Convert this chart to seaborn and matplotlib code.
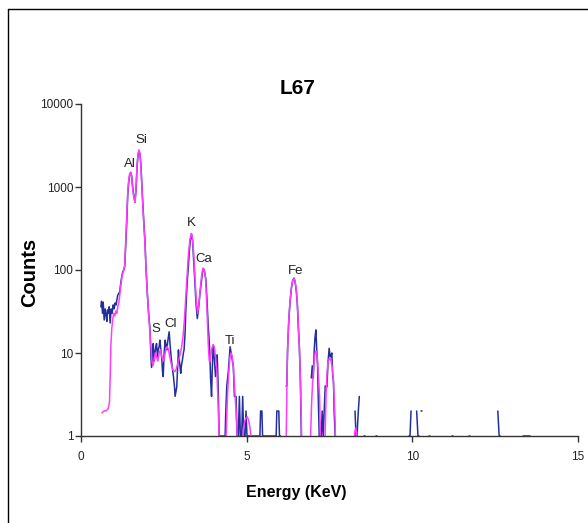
import numpy as np
import pandas as pd
import matplotlib
matplotlib.use("Agg")
import matplotlib.pyplot as plt
from matplotlib.lines import Line2D
from matplotlib.ticker import NullLocator, FixedLocator, FixedFormatter
import seaborn as sns

nan = np.nan

# measured spectrum (blue) - NaN marks zero-count gaps
energy_meas = [0.60,0.62,0.65,0.67,0.70,0.73,0.76,0.78,0.80,0.82,0.85,0.88,0.91,0.94,0.97,1.00,
               1.03,1.06,1.08,1.11,1.14,1.17,1.20,1.23,1.26,1.29,1.32,1.35,1.38,1.41,1.44,1.47,
               1.50,1.53,1.56,1.60,1.63,1.66,1.69,1.72,1.75,1.78,1.81,1.84,1.87,1.90,1.93,1.96,
               2.00,2.04,2.08,2.11,2.13,2.16,2.18,2.21,2.23,2.26,2.28,2.31,2.33,2.36,2.38,2.41,
               2.44,2.46,2.48,2.51,2.54,2.57,2.59,2.62,2.66,2.70,2.74,2.77,2.79,2.82,2.84,2.87,
               2.89,2.92,2.94,2.97,3.01,3.03,3.06,3.09,3.11,3.14,3.16,3.19,3.21,3.24,3.27,3.30,
               3.34,3.37,3.40,3.44,3.47,3.51,3.55,3.59,3.63,3.66,3.69,3.72,3.75,3.77,3.80,3.84,
               3.87,3.89,3.91,3.94,3.96,3.99,4.02,4.06,4.09,4.11,4.14,4.17,4.20,4.25,4.30,4.35,
               4.37,4.40,4.45,4.50,4.55,4.60,4.63,4.66,4.68,4.71,4.75,4.78,4.81,4.85,4.88,4.91,
               4.95,4.98,5.01,5.10,5.20,5.30,5.40,5.42,5.46,5.48,5.60,5.70,5.80,5.89,5.91,5.97,
               5.99,6.02,6.10,6.19,6.21,6.24,6.28,6.31,6.35,6.39,6.43,6.46,6.50,6.53,6.56,6.59,
               6.62,6.65,6.80,6.95,6.98,7.01,7.04,7.06,7.09,7.11,7.14,7.16,7.19,7.22,7.25,7.28,
               7.31,7.34,7.37,7.40,7.42,7.46,7.49,7.52,7.54,7.57,7.60,7.62,7.64,7.67,7.90,8.27,
               8.30,8.33,8.37,8.40,8.48,8.55,8.58,8.70,8.90,8.93,9.50,9.90,9.93,9.96,10.05,10.13,
               10.17,10.20,10.24,10.27,10.30,10.40,10.50,10.53,10.90,11.20,11.23,11.50,11.70,11.73,
               12.20,12.58,12.62,12.65,13.00,13.35,13.55]
counts_meas = [36,42,30,41,25,34,28,24,33,30,36,23,34,30,38,34,
               40,38,43,50,52,55,70,83,95,100,110,200,370,800,1150,1400,
               1500,1350,1000,750,680,900,1700,2400,2700,2500,1800,1000,600,350,230,110,
               53,30,20,9,6.7,9,13,8,9.9,12,13,9,10.9,12,14.3,11,
               8.2,6,5.2,10,14.3,12,10.9,14,18,11,7.5,6,5.2,4,3.0,3.5,
               3.9,7,10.9,8,5.7,7,8.2,10,10.9,17,30,55,76,110,170,230,
               270,220,130,69,40,26,35,52,70,90,104,100,85,76,45,21,
               14,9,5,3.0,6,12.5,9,5.2,7,9.5,4,1,1,1,1,1,
               2,4,6.2,11.9,9,6.8,3,3,3,1,1,3,1,1,3,1,
               1,2,1,1,1,1,1,2,2,1,1,1,1,1,2,2,
               1,1,nan,4,4,13,28,42,60,75,80,72,55,38,20,12,
               5,1,nan,5,7,5,11,15,19,12,7,3,1,1,1,2,
               1,2,4,4,3.9,8.2,11.4,9,9,10,5,4.7,2,1,nan,2,
               1,1,2,3,nan,1,1,nan,1,1,nan,1,1,2,nan,2,
               1,1,nan,2,2,nan,1,1,nan,1,1,nan,1,1,
               nan,2,1,1,nan,1,1]

# fitted spectrum (magenta); values below 1 fall under the axis
energy_fit = [0.63,0.66,0.70,0.74,0.78,0.81,0.84,0.86,0.88,0.90,0.93,0.96,0.99,1.02,1.05,1.08,
              1.11,1.14,1.17,1.20,1.23,1.26,1.29,1.32,1.35,1.38,1.41,1.44,1.47,1.50,1.53,1.56,
              1.60,1.63,1.66,1.69,1.72,1.75,1.78,1.81,1.84,1.87,1.90,1.93,1.96,2.00,2.04,2.08,
              2.11,2.14,2.17,2.20,2.24,2.28,2.32,2.36,2.40,2.44,2.48,2.52,2.56,2.60,2.64,2.68,
              2.72,2.76,2.80,2.84,2.88,2.92,2.96,3.00,3.04,3.08,3.12,3.16,3.20,3.24,3.28,3.32,
              3.36,3.40,3.44,3.48,3.52,3.56,3.60,3.64,3.68,3.72,3.76,3.80,3.84,3.87,3.90,3.94,
              3.98,4.02,4.06,4.10,4.13,4.16,4.19,4.36,4.38,4.42,4.45,4.49,4.52,4.55,4.58,4.61,
              4.64,4.68,4.71,4.74,4.86,4.90,4.94,4.98,5.02,5.06,5.10,5.13,5.16,6.17,6.20,6.23,
              6.27,6.31,6.35,6.39,6.43,6.46,6.50,6.53,6.56,6.59,6.62,6.65,6.68,6.90,6.93,6.96,
              6.99,7.02,7.05,7.08,7.11,7.14,7.17,7.20,7.22,7.25,7.34,7.37,7.40,7.43,7.46,7.49,
              7.52,7.55,7.58,7.61,7.64,7.67,7.70,8.22,8.26,8.29,8.32,8.35]
counts_fit = [1.9,1.95,2.0,2.0,2.05,2.1,2.3,2.6,5,12,20,26,30,28,32,30,
              36,40,50,65,80,92,100,115,220,420,850,1200,1450,1500,1300,950,
              720,650,950,1800,2500,2800,2500,1700,950,550,330,210,110,55,30,18,
              12,8,7,8,10,9,8,10,11,9,8,9,11,12,11,9,
              7.5,6.5,6,6,6.5,7.5,8.5,10,12,16,25,45,85,150,220,275,
              250,160,80,42,30,40,60,85,105,100,80,35,13,8,8,11,
              12.5,12,9,6,3,1.3,0.3,0.3,1,3,5,8.5,10,9.5,8,5.5,
              3.5,2,1.1,0.3,0.3,1.2,1.5,1.65,1.7,1.55,1.25,1.0,0.3,0.3,1.5,10,
              25,42,62,75,79,74,58,40,22,12,5,1.5,0.3,0.3,1,2.5,
              4.5,6.5,9,10.5,10.5,8,5,3,1.2,0.3,0.3,1.2,3.5,6.2,7.8,8.6,
              8.5,8,6.8,5,3,1.5,0.3,0.3,1.1,1.25,1.1,0.3]

peak_labels = ["Al", "Si", "S", "Cl", "K", "Ca", "Ti", "Fe"]
peak_x = [1.49, 1.83, 2.25, 2.72, 3.34, 3.71, 4.50, 6.49]
peak_y = [1742, 3388, 17.9, 20.6, 339, 125, 12.8, 89.5]

x_ticks = [0, 5, 10, 15]
y_ticks = [1, 10, 100, 1000, 10000]
y_tick_labels = ["1", "10", "100", "1000", "10000"]

sns.set_theme(style="white")
plt.rcParams["font.family"] = ["Liberation Sans Narrow", "Liberation Sans", "DejaVu Sans"]

W, H = 588, 523
fig = plt.figure(figsize=(W / 100, H / 100), dpi=100)
fig.patch.set_facecolor("white")
ax = fig.add_axes([81 / W, 1 - 436 / H, 497 / W, 332 / H])
ax.set_facecolor("white")

meas = pd.DataFrame({"energy": energy_meas, "counts": counts_meas})
meas["seg"] = meas["counts"].isna().cumsum()
meas = meas.dropna()
fit = pd.DataFrame({"energy": energy_fit, "counts": counts_fit})

sns.lineplot(data=meas, x="energy", y="counts", units="seg", estimator=None, sort=False,
             color="#22309c", lw=1.1, ax=ax)
sns.lineplot(data=fit, x="energy", y="counts", estimator=None, sort=False,
             color="#ff3cff", lw=1.1, ax=ax)

ax.set_yscale("log")
ax.set_xlim(0, 15)
ax.set_ylim(1, 10000)
ax.xaxis.set_major_locator(FixedLocator(x_ticks))
ax.set_xticklabels([str(t) for t in x_ticks])
ax.yaxis.set_major_locator(FixedLocator(y_ticks))
ax.yaxis.set_major_formatter(FixedFormatter(y_tick_labels))
ax.yaxis.set_minor_locator(NullLocator())
ax.xaxis.set_minor_locator(NullLocator())
ax.set_xlabel("")
ax.set_ylabel("")
for s in ["top", "right"]:
    ax.spines[s].set_visible(False)
for s in ["left", "bottom"]:
    ax.spines[s].set_color("#333333")
    ax.spines[s].set_linewidth(1.0)
ax.tick_params(axis="both", which="major", direction="out", length=4, width=1.0,
               color="#333333", labelsize=8.5, labelcolor="#222222",
               left=True, bottom=True)
ax.tick_params(axis="x", pad=7)
ax.tick_params(axis="y", pad=1.5)
ax.grid(False)

for lab, xv, yv in zip(peak_labels, peak_x, peak_y):
    ax.text(xv, yv, lab, ha="center", va="baseline", fontsize=9.5, color="#222222")

fig.text(298 / W, 1 - 89 / H, "L67", ha="center", va="center", fontsize=15,
         fontweight="bold", color="black")
fig.text(296 / W, 1 - 492 / H, "Energy (KeV)", ha="center", va="center", fontsize=11.5,
         fontweight="bold", color="black")
fig.text(30 / W, 1 - 272 / H, "Counts", ha="center", va="center", rotation=90,
         fontsize=14.5, fontweight="bold", color="black", family=["Liberation Sans", "DejaVu Sans"])

# outer frame (left and top edges visible)
fig.add_artist(Line2D([7.5 / W, 7.5 / W], [0, 1 - 8.5 / H], transform=fig.transFigure,
                      color="black", lw=1.0))
fig.add_artist(Line2D([7.5 / W, 1], [1 - 8.5 / H, 1 - 8.5 / H], transform=fig.transFigure,
                      color="black", lw=1.0))

fig.savefig("out.png", dpi=100, facecolor="white")
